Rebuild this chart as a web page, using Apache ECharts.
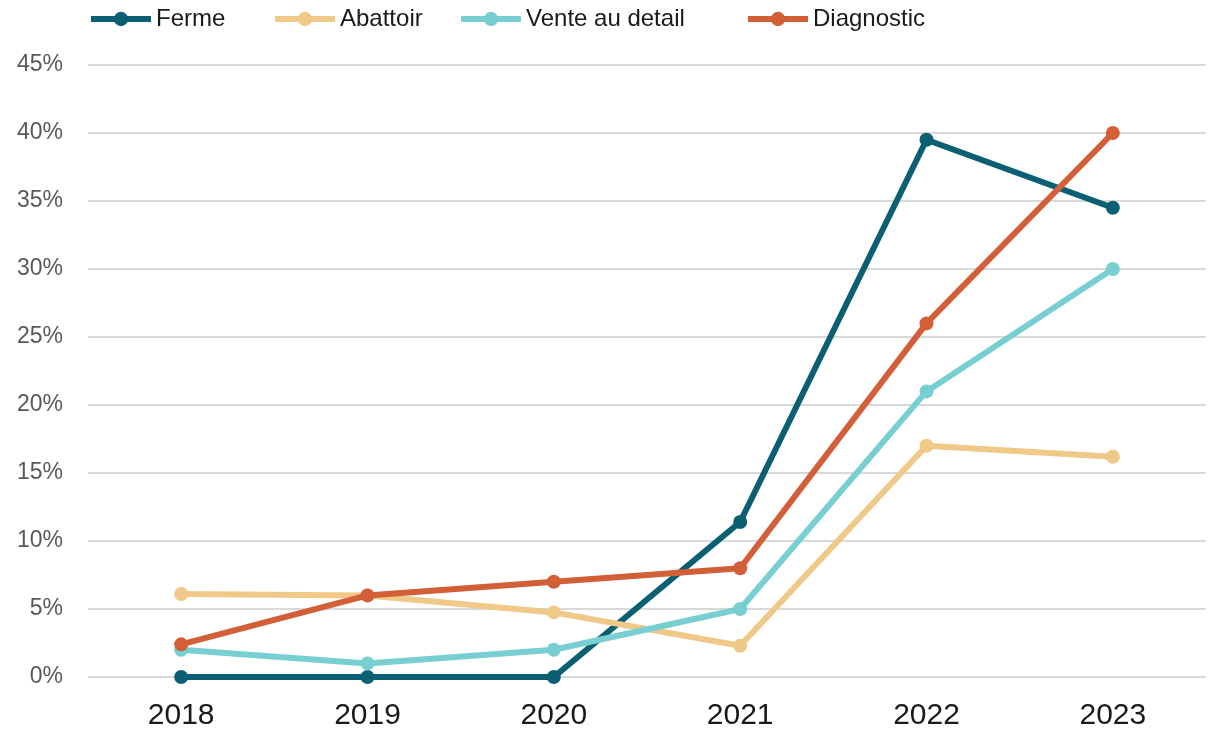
<!DOCTYPE html>
<html>
<head>
<meta charset="utf-8">
<script src="https://cdn.jsdelivr.net/npm/echarts@6/dist/echarts.min.js"></script>
<style>
  html, body { margin: 0; padding: 0; background: #ffffff; }
  #chart { width: 1212px; height: 731px; }
</style>
</head>
<body>
<div id="chart"></div>
<script>
// Years on the horizontal axis
const years = ['2018', '2019', '2020', '2021', '2022', '2023'];

// Shares per stage, in percent
const ferme = [0, 0, 0, 11.4, 39.5, 34.5];
const abattoir = [6.1, 6.0, 4.75, 2.3, 17.0, 16.2];
const venteDetail = [2.0, 1.0, 2.0, 5.0, 21.0, 30.0];
const diagnostic = [2.4, 6.0, 7.0, 8.0, 26.0, 40.0];

const seriesNames = ['Ferme', 'Abattoir', 'Vente au detail', 'Diagnostic'];
const seriesData = [ferme, abattoir, venteDetail, diagnostic];
const seriesColors = ['#0b5f73', '#f0c888', '#77cfd2', '#d25f37'];

// Legend entries sit at their own horizontal positions
const legendLeft = [88, 272, 458, 745];

const chart = echarts.init(document.getElementById('chart'), null, { renderer: 'canvas' });

const fontFamily = 'Liberation Sans, Arial, sans-serif';

chart.setOption({
  animation: false,
  backgroundColor: '#ffffff',
  color: seriesColors,
  legend: seriesNames.map((name, i) => ({
    data: [name],
    left: legendLeft[i],
    top: 7,
    itemWidth: 60,
    itemHeight: 18,
    itemGap: 0,
    padding: 0,
    lineStyle: { width: 6 },
    textStyle: { fontFamily, fontSize: 24, color: '#1a1a1a', padding: [0, 0, 0, 0] }
  })),
  grid: { left: 88, right: 6, top: 65, bottom: 51, containLabel: false },
  xAxis: {
    type: 'category',
    data: years,
    boundaryGap: true,
    axisLine: { show: false },
    axisTick: { show: false },
    axisLabel: { fontFamily, fontSize: 30, color: '#1a1a1a', margin: 24 }
  },
  yAxis: {
    type: 'value',
    min: 0,
    max: 45,
    interval: 5,
    axisLine: { show: false },
    axisTick: { show: false },
    splitLine: { lineStyle: { color: '#d9d9d9', width: 2 } },
    axisLabel: {
      fontFamily, fontSize: 23, color: '#595959', margin: 25,
      formatter: v => v + '%'
    }
  },
  series: seriesNames.map((name, i) => ({
    name,
    type: 'line',
    data: seriesData[i],
    symbol: 'circle',
    symbolSize: 14,
    lineStyle: { width: 6, color: seriesColors[i] },
    itemStyle: { color: seriesColors[i] },
    z: 2 + i
  }))
});
</script>
</body>
</html>
